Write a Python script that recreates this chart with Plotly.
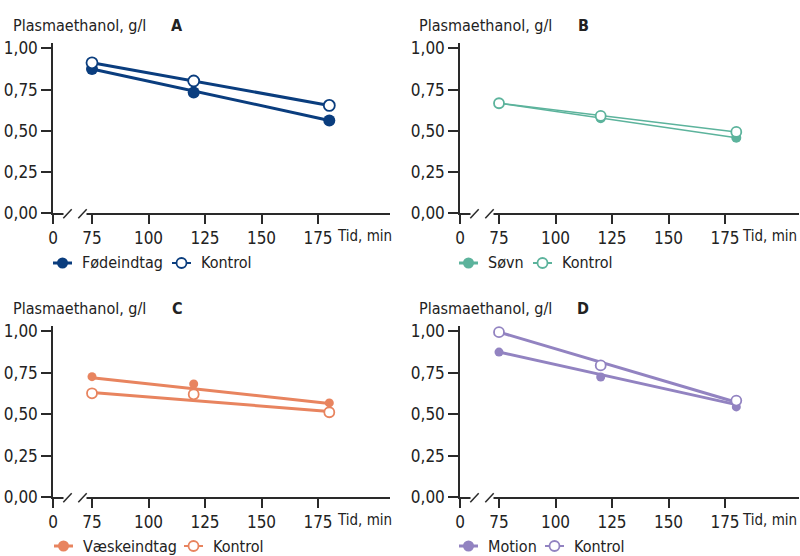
import plotly.graph_objects as go

# ---------------- data ----------------
times = [75, 120, 180]
trend_times = [75, 180]

panel_letters = ["A", "B", "C", "D"]
treatment_names = ["Fødeindtag", "Søvn", "Væskeindtag", "Motion"]
control_name = "Kontrol"

treat_A = [0.875, 0.732, 0.563]
ctrl_A = [0.912, 0.802, 0.654]
trend_treat_A = [0.875, 0.563]
trend_ctrl_A = [0.912, 0.654]

treat_B = [0.667, 0.576, 0.458]
ctrl_B = [0.667, 0.590, 0.493]
trend_treat_B = [0.667, 0.458]
trend_ctrl_B = [0.667, 0.493]

treat_C = [0.726, 0.682, 0.568]
ctrl_C = [0.626, 0.620, 0.512]
trend_treat_C = [0.720, 0.565]
trend_ctrl_C = [0.630, 0.517]

treat_D = [0.874, 0.724, 0.544]
ctrl_D = [0.994, 0.794, 0.582]
trend_treat_D = [0.874, 0.558]
trend_ctrl_D = [0.994, 0.572]

y_ticks = [0, 0.25, 0.5, 0.75, 1.0]
x_ticks = [75, 100, 125, 150, 175]
x_break_label = "0"
y_title = "Plasmaethanol, g/l"
x_title = "Tid, min"

colors = ["#0a3d7e", "#5cb39c", "#e8845f", "#9283c1"]
line_widths = [3, 1.5, 3, 3]
filled_sizes = [12, 10, 9, 9]
open_sizes = [11, 10, 10, 10]

treats = [treat_A, treat_B, treat_C, treat_D]
ctrls = [ctrl_A, ctrl_B, ctrl_C, ctrl_D]
trend_treats = [trend_treat_A, trend_treat_B, trend_treat_C, trend_treat_D]
trend_ctrls = [trend_ctrl_A, trend_ctrl_B, trend_ctrl_C, trend_ctrl_D]

# ---------------- layout geometry (pixels) ----------------
W, H = 800, 556
FONT = "Liberation Sans Narrow, DejaVu Sans Condensed, Arial Narrow, Roboto, sans-serif"
TXT = "#222222"
AX = "#2a2a2a"
FS = 16

# per panel: (x_left_px, x_right_px, y_top_px, y_bottom_px)
geom = [
    (53, 390, 42.7, 213.3),
    (460, 799, 42.7, 213.3),
    (53, 390, 325.5, 497.3),
    (460, 799, 325.5, 497.3),
]
# legend key positions (px): (line start treatment, line start control), and row y
legend_keys = [(53, 172), (459, 533), (54, 184), (459, 545)]
legend_row_y = [263, 263, 546, 546]
key_len = 19
key_text_gap = 8

px_per_unit = 2.26
offset_px_75 = 39.0  # distance from y-axis to tick 75
y_top_val = 1.034


def px(xp):
    return xp / W


def py(yp):
    return 1 - yp / H


fig = go.Figure()
layout_axes = {}
shapes = []
annotations = []

for i in range(4):
    xl, xr, yt, yb = geom[i]
    r0 = 75 - offset_px_75 / px_per_unit
    r1 = r0 + (xr - xl) / px_per_unit
    xa = "x" if i == 0 else f"x{i+1}"
    ya = "y" if i == 0 else f"y{i+1}"
    xkey = "xaxis" if i == 0 else f"xaxis{i+1}"
    ykey = "yaxis" if i == 0 else f"yaxis{i+1}"
    c = colors[i]

    # trend lines
    fig.add_trace(go.Scatter(x=trend_times, y=trend_treats[i], mode="lines",
                             line=dict(color=c, width=line_widths[i]),
                             xaxis=xa, yaxis=ya, showlegend=False, hoverinfo="skip"))
    fig.add_trace(go.Scatter(x=trend_times, y=trend_ctrls[i], mode="lines",
                             line=dict(color=c, width=line_widths[i]),
                             xaxis=xa, yaxis=ya, showlegend=False, hoverinfo="skip"))
    # points
    fig.add_trace(go.Scatter(x=times, y=treats[i], mode="markers", name=treatment_names[i],
                             marker=dict(color=c, size=filled_sizes[i], line=dict(width=0)),
                             xaxis=xa, yaxis=ya, showlegend=False))
    fig.add_trace(go.Scatter(x=times, y=ctrls[i], mode="markers", name=control_name,
                             marker=dict(color="white", size=open_sizes[i],
                                         line=dict(color=c, width=1.8)),
                             xaxis=xa, yaxis=ya, showlegend=False))

    layout_axes[xkey] = dict(
        domain=[xl / W, xr / W], range=[r0, r1], anchor=ya, automargin=False,
        tickvals=[r0] + x_ticks, ticktext=[x_break_label] + [str(t) for t in x_ticks],
        showline=True, linecolor=AX, linewidth=1.5,
        ticks="outside", ticklen=9, tickwidth=1.5, tickcolor=AX,
        showgrid=False, zeroline=False,
        tickfont=dict(family=FONT, size=FS + 1, color=TXT),
        fixedrange=True,
    )
    layout_axes[ykey] = dict(
        domain=[1 - yb / H, 1 - yt / H], range=[0, y_top_val], anchor=xa, automargin=False,
        tickvals=y_ticks, tickformat=".2f",
        showline=True, linecolor=AX, linewidth=1.5,
        ticks="outside", ticklen=10, tickwidth=1.5, tickcolor=AX,
        showgrid=False, zeroline=False,
        tickfont=dict(family=FONT, size=FS + 1, color=TXT),
        fixedrange=True,
    )

    # axis break: white gap + two slashes (pixel offsets from y-axis)
    wpx = xr - xl
    hpx = yb - yt
    xd = f"{xa} domain"
    yd = f"{ya} domain"
    shapes.append(dict(type="rect", xref=xd, yref=yd,
                       x0=10.5 / wpx, x1=33.5 / wpx, y0=-3 / hpx, y1=3 / hpx,
                       fillcolor="white", line=dict(width=0), layer="above"))
    for s0, s1 in [(10.3, 18.7), (25.3, 33.7)]:
        shapes.append(dict(type="line", xref=xd, yref=yd,
                           x0=s0 / wpx, x1=s1 / wpx, y0=-5 / hpx, y1=4 / hpx,
                           line=dict(color=AX, width=1.5), layer="above"))

    # titles
    tx = 11 if xl < 400 else 417
    annotations.append(dict(text=y_title, xref="paper", yref="paper",
                            x=px(tx), y=py(yt - 17), xanchor="left", yanchor="middle",
                            showarrow=False, font=dict(family=FONT, size=FS, color=TXT)))
    lx = 177 if xl < 400 else 583
    annotations.append(dict(text=f"<b>{panel_letters[i]}</b>", xref="paper", yref="paper",
                            x=px(lx), y=py(yt - 17), xanchor="center", yanchor="middle",
                            showarrow=False, font=dict(family=FONT, size=FS, color=TXT)))
    annotations.append(dict(text=x_title, xref="paper", yref="paper",
                            x=px(394) if xr < 700 else px(799), y=py(yb + 23),
                            xanchor="right", yanchor="middle",
                            showarrow=False, font=dict(family=FONT, size=15, color=TXT)))

    # legend keys (line + marker) and labels
    ly = legend_row_y[i]
    for k, (name, filled) in enumerate([(treatment_names[i], True), (control_name, False)]):
        x0 = legend_keys[i][k]
        shapes.append(dict(type="line", xref="paper", yref="paper",
                           x0=px(x0), x1=px(x0 + key_len), y0=py(ly), y1=py(ly),
                           line=dict(color=c, width=3 if filled else 2)))
        cx = x0 + key_len / 2
        r = 5.5 if filled else 5
        shapes.append(dict(type="circle", xref="paper", yref="paper",
                           x0=px(cx - r), x1=px(cx + r), y0=py(ly + r), y1=py(ly - r),
                           fillcolor=c if filled else "white",
                           line=dict(color=c, width=0 if filled else 1.8)))
        annotations.append(dict(text=name, xref="paper", yref="paper",
                                x=px(x0 + key_len + key_text_gap), y=py(ly),
                                xanchor="left", yanchor="middle", showarrow=False,
                                font=dict(family=FONT, size=FS, color=TXT)))

fig.update_layout(
    width=W, height=H,
    margin=dict(l=0, r=0, t=0, b=0),
    paper_bgcolor="white", plot_bgcolor="white",
    separators=",.",
    font=dict(family=FONT, size=FS, color=TXT),
    shapes=shapes, annotations=annotations,
    showlegend=False,
    **layout_axes,
)

fig.write_html("out.html", config={"displayModeBar": False},
               post_script="document.documentElement.style.margin='0';"
                           "document.body.style.margin='0';"
                           "document.body.style.overflow='hidden';")
